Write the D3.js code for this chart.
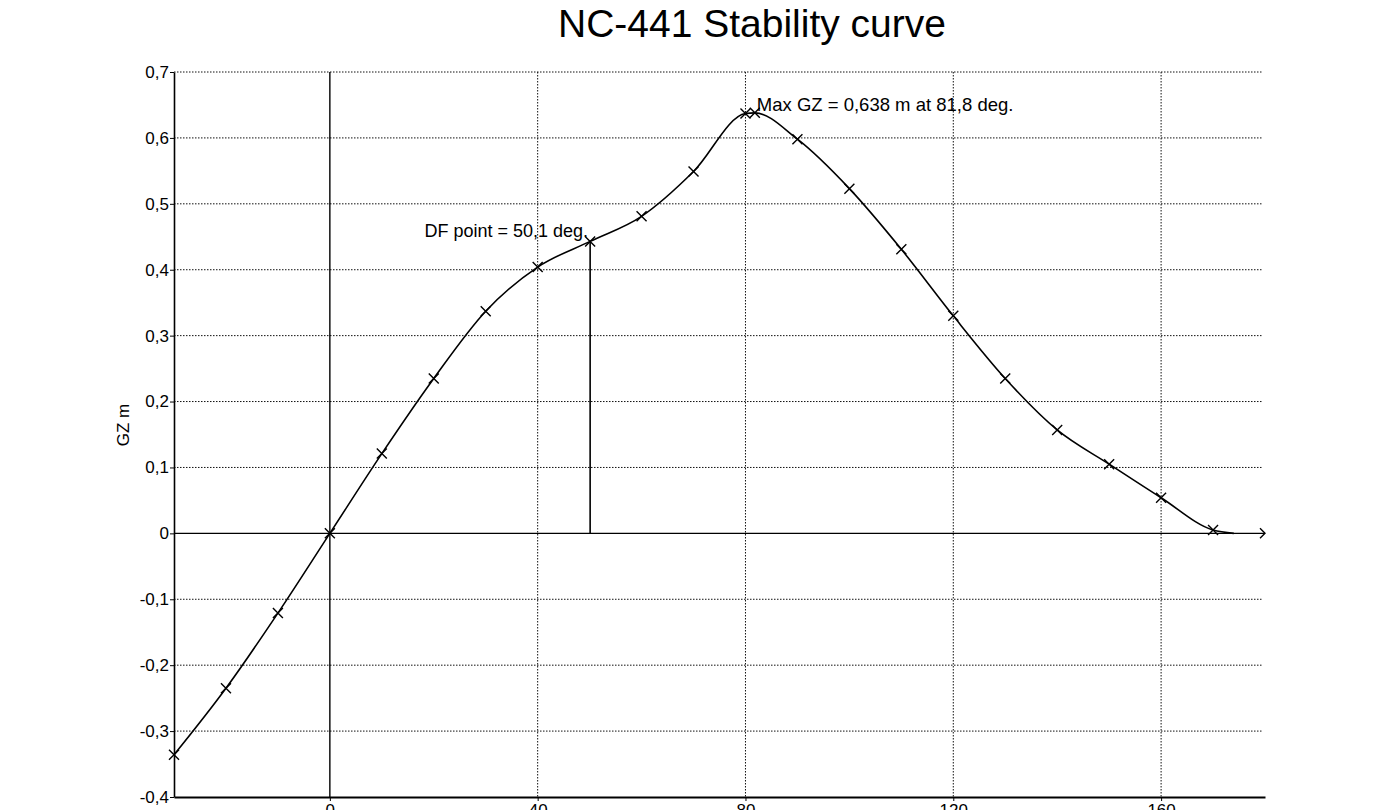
<!DOCTYPE html>
<html>
<head>
<meta charset="utf-8">
<script src="https://cdn.jsdelivr.net/npm/d3@7"></script>
<style>
  body { margin: 0; background: #fff; }
  svg { display: block; font-family: "Liberation Sans", Arial, sans-serif; }
</style>
</head>
<body>
<svg id="chart" width="1400" height="810"></svg>
<script>
// heel angle (deg) and GZ (m)
const angles = [-30, -20, -10, 0, 10, 20, 30, 40, 50.1, 60, 70, 80, 81.8, 90, 100, 110, 120, 130, 140, 150, 160, 170, 174];
const gz = [-0.336, -0.235, -0.121, 0, 0.121, 0.235, 0.337, 0.404, 0.443, 0.481, 0.549, 0.637, 0.638, 0.598, 0.523, 0.431, 0.330, 0.235, 0.157, 0.105, 0.054, 0.005, 0];
const marked = angles.map((a, i) => i < angles.length - 1); // last point is vanishing angle, no cross
const xTicks = [0, 40, 80, 120, 160];
const yTicks = [-0.4, -0.3, -0.2, -0.1, 0, 0.1, 0.2, 0.3, 0.4, 0.5, 0.6, 0.7];
const dfPoint = { angle: 50.1, gz: 0.443, label: "DF point = 50,1 deg." };
const maxPoint = { angle: 81.8, gz: 0.638, label: "Max GZ = 0,638 m at 81,8 deg." };

const svg = d3.select("#chart");
const m = { left: 174, right: 1265, top: 72, bottom: 797 };

const x = d3.scaleLinear().domain([-30, 180]).range([m.left, m.right]);
const y = d3.scaleLinear().domain([-0.4, 0.7]).range([m.bottom, m.top]);

// decimal comma, plain hyphen for negatives
const comma = v => (v === 0 ? "0" : (v < 0 ? "-" : "") + d3.format(".1f")(Math.abs(v)).replace(".", ","));

// Title
svg.append("text")
  .attr("x", 752).attr("y", 37)
  .attr("text-anchor", "middle")
  .attr("font-size", 39)
  .text("NC-441 Stability curve");

// Grid
const grid = svg.append("g").attr("stroke", "#111").attr("stroke-dasharray", "1.5,1.5");
grid.selectAll("line.h")
  .data(yTicks.filter(v => v !== 0 && v !== -0.4))
  .join("line")
  .attr("class", "h")
  .attr("x1", m.left).attr("x2", m.right - 2)
  .attr("y1", d => y(d)).attr("y2", d => y(d));
grid.selectAll("line.v")
  .data(xTicks.filter(v => v !== 0))
  .join("line")
  .attr("class", "v")
  .attr("x1", d => x(d)).attr("x2", d => x(d))
  .attr("y1", m.top).attr("y2", m.bottom);

// Axes
const yAxis = svg.append("g")
  .attr("transform", `translate(${m.left},0)`)
  .call(d3.axisLeft(y).tickValues(yTicks).tickFormat(comma).tickSizeInner(4).tickSizeOuter(0).tickPadding(1));
const xAxis = svg.append("g")
  .attr("transform", `translate(0,${m.bottom})`)
  .call(d3.axisBottom(x).tickValues(xTicks).tickFormat(d3.format("d")).tickSizeInner(4).tickSizeOuter(0).tickPadding(3));
[yAxis, xAxis].forEach(g => {
  g.selectAll("text").attr("font-size", 17).attr("fill", "#000").attr("font-family", "'Liberation Sans', Arial, sans-serif");
  g.selectAll("line").attr("stroke", "#000");
});
yAxis.select(".domain").attr("stroke", "#000").attr("stroke-width", 1.6);
xAxis.select(".domain").attr("stroke", "#000").attr("stroke-width", 2);

svg.append("text")
  .attr("transform", "translate(129,425) rotate(-90)")
  .attr("text-anchor", "middle")
  .attr("font-size", 17)
  .text("GZ  m");

// Zero lines
svg.append("line")
  .attr("x1", x(0)).attr("x2", x(0))
  .attr("y1", m.top).attr("y2", m.bottom)
  .attr("stroke", "#000").attr("stroke-width", 1.4);
svg.append("line")
  .attr("x1", m.left).attr("x2", m.right)
  .attr("y1", y(0)).attr("y2", y(0))
  .attr("stroke", "#000").attr("stroke-width", 1.4);
svg.append("path")
  .attr("d", `M${m.right - 5},${y(0) - 5}L${m.right},${y(0)}L${m.right - 5},${y(0) + 5}`)
  .attr("fill", "none").attr("stroke", "#000").attr("stroke-width", 1.4);

// DF marker line
svg.append("line")
  .attr("x1", x(dfPoint.angle)).attr("x2", x(dfPoint.angle))
  .attr("y1", y(dfPoint.gz)).attr("y2", y(0))
  .attr("stroke", "#000").attr("stroke-width", 1.6);

// Curve
const pts = angles.map((a, i) => ({ a, v: gz[i], mark: marked[i] }));
const line = d3.line()
  .x(d => x(d.a))
  .y(d => y(d.v))
  .curve(d3.curveMonotoneX);
svg.append("path")
  .datum(pts)
  .attr("d", line)
  .attr("fill", "none")
  .attr("stroke", "#000")
  .attr("stroke-width", 1.6);

// Crosses
svg.append("g")
  .selectAll("path")
  .data(pts.filter(d => d.mark))
  .join("path")
  .attr("transform", d => `translate(${x(d.a)},${y(d.v)})`)
  .attr("d", "M-5,-5L5,5M-5,5L5,-5")
  .attr("stroke", "#000")
  .attr("stroke-width", 1.4);

// Annotations
svg.append("text")
  .attr("x", x(dfPoint.angle) - 2).attr("y", y(dfPoint.gz) - 4)
  .attr("text-anchor", "end")
  .attr("font-size", 18)
  .text(dfPoint.label);
svg.append("text")
  .attr("x", x(maxPoint.angle) + 2).attr("y", y(maxPoint.gz) - 2)
  .attr("font-size", 18.5)
  .text(maxPoint.label);
</script>
</body>
</html>
